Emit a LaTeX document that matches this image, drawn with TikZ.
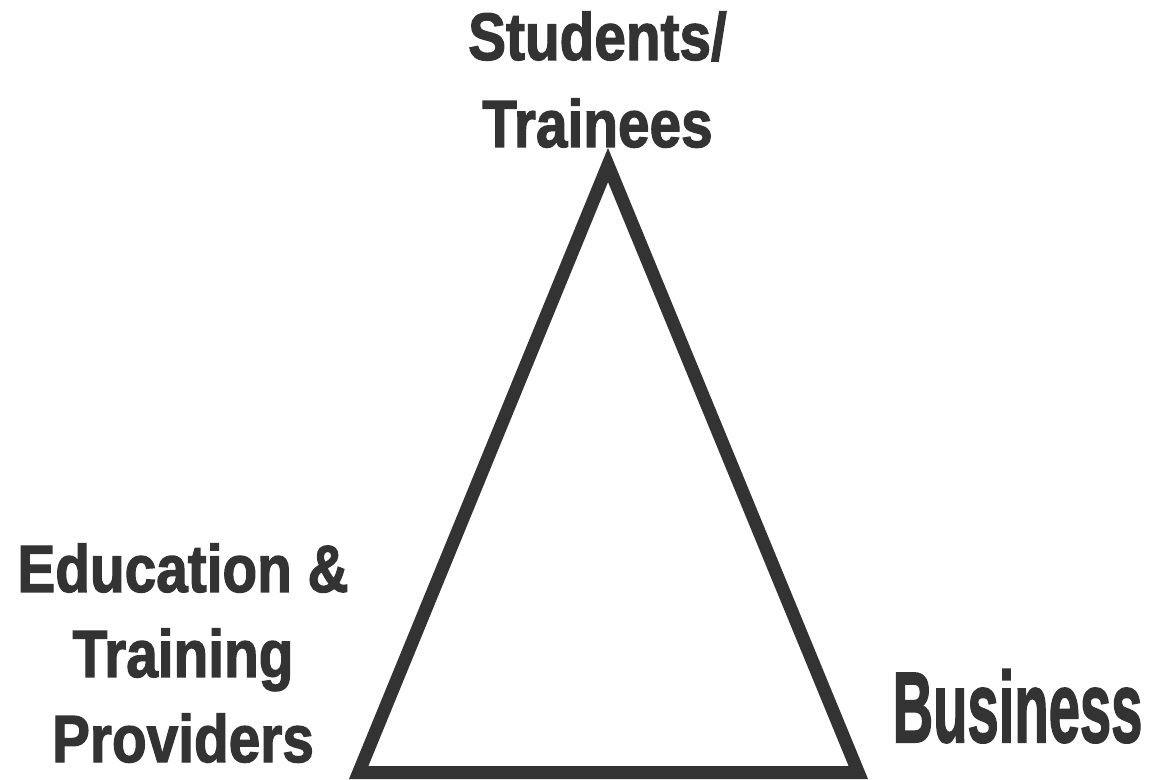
\documentclass[tikz,border=0pt]{standalone}
\usepackage{fontspec}
\setmainfont{Liberation Sans}[BoldFeatures={FakeBold=2}]
\usetikzlibrary{positioning}

\definecolor{ink}{HTML}{333333}

\begin{document}
\begin{tikzpicture}[
    side/.style={draw=ink, line width=0.13cm, line join=miter},
    party/.style={text=ink, inner sep=0pt, align=center, anchor=base,
                  font=\bfseries\fontsize{19}{24.2}\selectfont, xscale=0.85},
    bigparty/.style={party, font=\bfseries\fontsize{28.5}{30}\selectfont, xscale=0.66}
  ]
   \useasboundingbox (0,0) rectangle (11.55,7.79);

   \coordinate (top)   at (6.08,6.14);
   \coordinate (left)  at (3.587,0.065);
   \coordinate (right) at (8.583,0.065);

   \draw[side] (top) -- (left) -- (right) -- cycle;

   % base anchor sits on the last line
   \node[party, font=\bfseries\fontsize{19}{24.8}\selectfont] (students) at (5.975,6.32) {Students/\\Trainees};
   \node[party] (providers) at (1.83,0.17) {Education \&\\Training\\Providers};
   \node[bigparty] (business) at (10.175,0.37) {Business};
\end{tikzpicture}
\end{document}
